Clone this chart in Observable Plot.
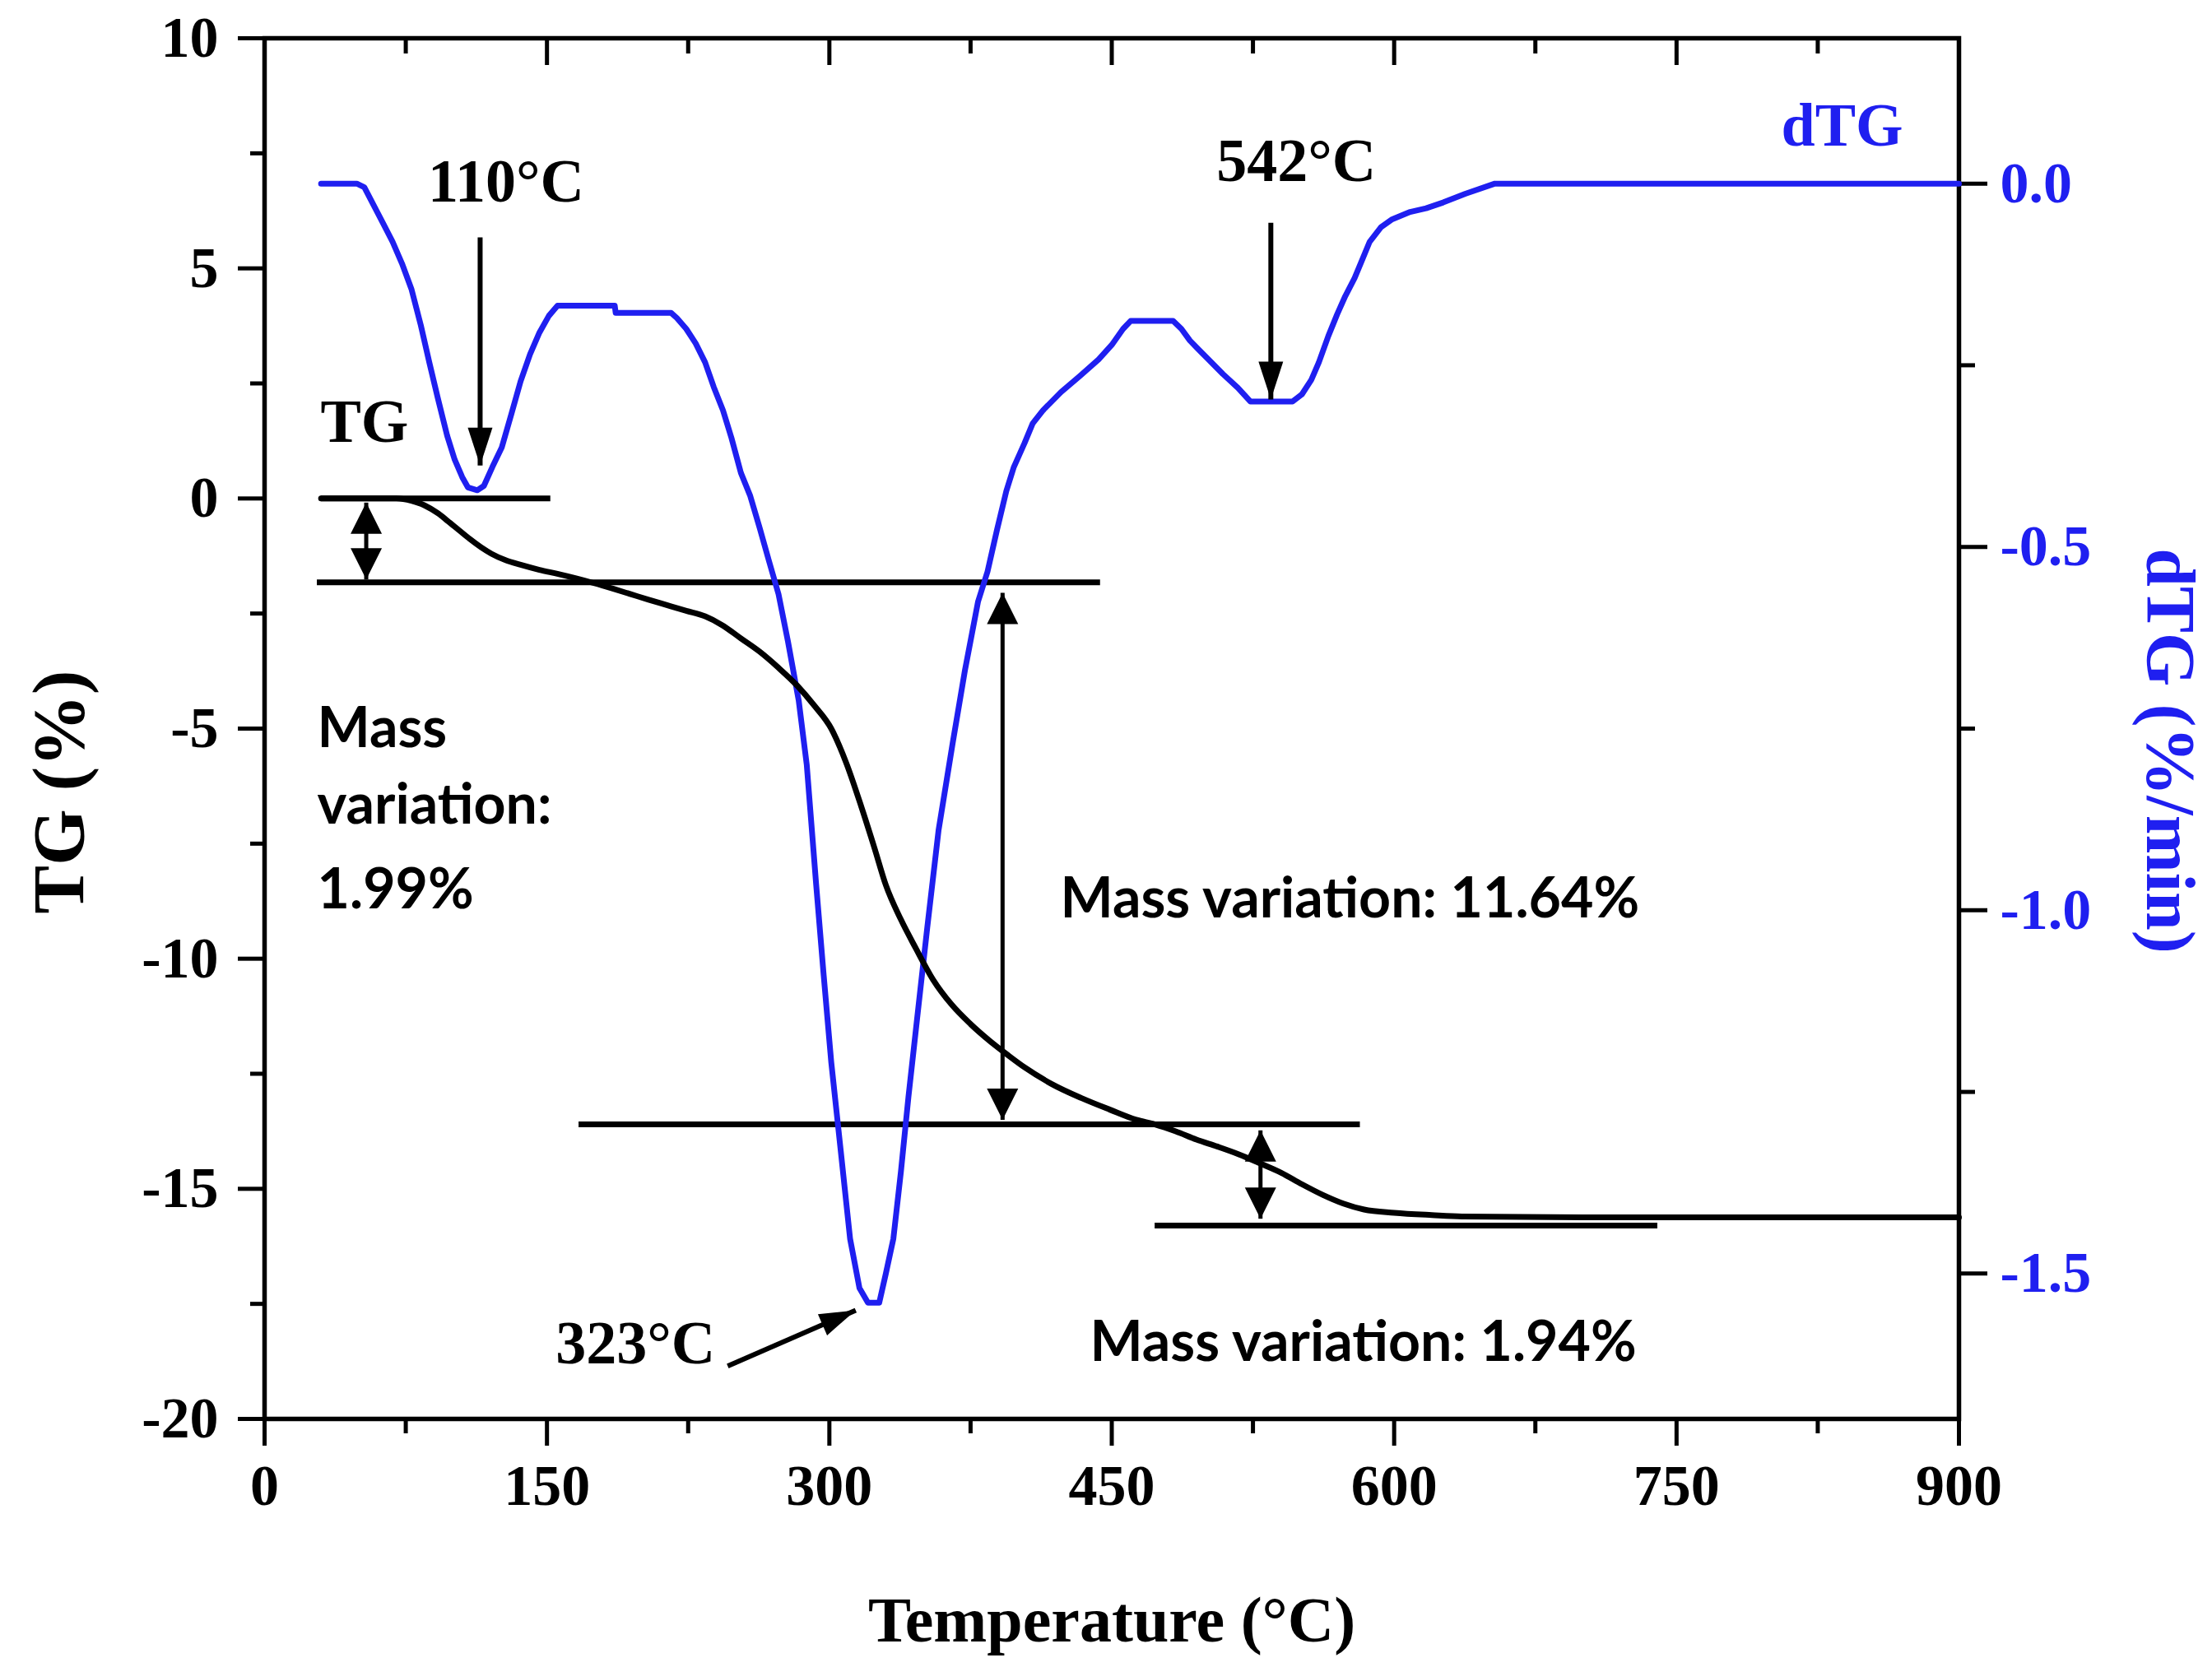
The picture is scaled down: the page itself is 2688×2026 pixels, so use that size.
<!DOCTYPE html>
<html>
<head>
<meta charset="utf-8">
<script src="https://cdn.jsdelivr.net/npm/d3@7"></script>
<script src="https://cdn.jsdelivr.net/npm/@observablehq/plot@0.6"></script>
<style>
  body { margin: 0; background: #fff; }
  #chart svg { display: block; }
</style>
</head>
<body>
<div id="chart"></div>
<script>
const blue = "#1f1ff0";
const serif = "Liberation Serif";
const sans = "Lato";

// TG curve (mass change, %)
const tgTemp = [30, 50, 70, 78, 85, 92, 97, 103, 109, 115, 120.5, 128, 136, 146, 156, 165, 175, 185, 194.5, 204,
  214, 224, 234, 243, 253, 263, 273, 283, 292, 301, 309, 317, 324, 330, 338, 346, 355, 365, 375, 385,
  395, 404, 418, 434, 449, 463, 473, 484, 495, 506, 517.5, 529, 540, 551, 562, 573, 584, 600, 620, 636,
  700, 800, 900];
const tgValue = [0, 0, 0, -0.05, -0.15, -0.32, -0.48, -0.68, -0.88, -1.06, -1.2, -1.34, -1.44, -1.55, -1.64, -1.73, -1.84, -1.96, -2.08, -2.2,
  -2.32, -2.44, -2.56, -2.75, -3.04, -3.33, -3.68, -4.07, -4.5, -5.0, -5.75, -6.7, -7.6, -8.4, -9.15, -9.78, -10.45, -11.0, -11.42, -11.78,
  -12.1, -12.37, -12.72, -13.03, -13.28, -13.5, -13.6, -13.75, -13.93, -14.08, -14.25, -14.45, -14.65, -14.9, -15.13, -15.32, -15.45, -15.52, -15.57, -15.6,
  -15.62, -15.62, -15.62];

// dTG curve (%/min)
const dtgTemp = [30, 49, 53, 58, 63, 68, 73, 78, 83, 87.5, 92, 97, 101, 105, 108, 113, 116.5, 121, 126, 131,
  136, 141, 146, 151, 155.6, 186, 186.5, 216, 219, 224, 229, 234, 238.6, 243.5, 248, 253, 258, 263, 268, 273,
  278, 283.7, 288, 293, 297, 301, 306, 311, 316, 320.5, 326.5, 330, 334, 338, 342, 347, 352, 358, 365.5, 372,
  379, 384, 389, 394, 398, 403.7, 408, 413.5, 423, 433, 443, 450, 456, 460, 482.6, 487, 491.5, 496, 501, 509,
  517, 523.7, 546, 551, 556, 560, 565, 569.7, 574, 579, 583, 587, 593, 599, 608.5, 617, 626, 637.8, 653.5, 900];
const dtgValue = [0, 0, -0.005, -0.03, -0.055, -0.08, -0.11, -0.145, -0.195, -0.246, -0.295, -0.347, -0.38, -0.404, -0.418, -0.422, -0.416, -0.39, -0.363, -0.318,
  -0.272, -0.235, -0.205, -0.182, -0.168, -0.168, -0.178, -0.178, -0.185, -0.2, -0.22, -0.246, -0.28, -0.312, -0.35, -0.398, -0.43, -0.474, -0.52, -0.565,
  -0.63, -0.711, -0.8, -0.965, -1.09, -1.209, -1.33, -1.452, -1.52, -1.54, -1.54, -1.5, -1.452, -1.36, -1.257, -1.14, -1.024, -0.89, -0.77, -0.67,
  -0.575, -0.534, -0.477, -0.423, -0.39, -0.357, -0.33, -0.312, -0.287, -0.265, -0.242, -0.222, -0.2, -0.189, -0.189, -0.2, -0.216, -0.228, -0.241, -0.262,
  -0.281, -0.3, -0.3, -0.29, -0.27, -0.246, -0.21, -0.18, -0.155, -0.13, -0.105, -0.08, -0.06, -0.049, -0.039, -0.034, -0.026, -0.014, 0, 0];

// axes
const xTicks = [0, 150, 300, 450, 600, 750, 900];
const xMinor = [75, 225, 375, 525, 675, 825];
const yTicks = [-20, -15, -10, -5, 0, 5, 10];
const yMinor = [-17.5, -12.5, -7.5, -2.5, 2.5, 7.5];
const dtgTicks = [0, -0.5, -1, -1.5];
const dtgMinor = [-0.25, -0.75, -1.25];
const tgDomain = [-20, 10];
const dtgDomain = [-1.7, 0.2];

// horizontal step lines
const levelY = [0, -1.82, -13.6, -15.8];
const levelX1 = [30, 28, 167, 473];
const levelX2 = [152, 444, 582, 740];

// double arrows between levels
const spanX = [54, 392, 529];
const spanTop = [-0.09, -2.05, -13.73];
const spanBottom = [-1.76, -13.5, -15.65];

// peak arrows on dTG (110 and 542)
const peakX = [114.5, 534.5];
const peakFrom = [-0.074, -0.054];
const peakTo = [-0.388, -0.297];
// slanted arrow to 323 peak (TG units)
const slantX = [246, 314];
const slantY = [-18.85, -17.64];

// labels
const peakText = ["110°C", "542°C", "323°C"];
const peakLabelX = [128.3, 548, 197];
const peakLabelY = [6.45, 6.9, -18.79];
const curveText = ["TG", "dTG"];
const curveLabelX = [29.7, 870.3];
const curveLabelY = [1.23, 7.67];
const massText = ["Mass", "variation:", "1.99%", "Mass variation: 11.64%", "Mass variation: 1.94%"];
const massX = [28, 28, 28, 422.7, 438.4];
const massY = [-5.4, -7.06, -8.9, -9.1, -18.74];

const toY = (d) => tgDomain[0] + (d - dtgDomain[0]) / (dtgDomain[1] - dtgDomain[0]) * (tgDomain[1] - tgDomain[0]);
const fromY = (y) => dtgDomain[0] + (y - tgDomain[0]) / (tgDomain[1] - tgDomain[0]) * (dtgDomain[1] - dtgDomain[0]);

const tgData = tgTemp.map((t, i) => ({t, v: tgValue[i]}));
const dtgData = dtgTemp.map((t, i) => ({t, v: toY(dtgValue[i])}));
const levels = levelY.map((y, i) => ({y, x1: levelX1[i], x2: levelX2[i]}));
const spans = spanX.map((x, i) => ({x, top: spanTop[i], bottom: spanBottom[i]}));
const peaks = peakX.map((x, i) => ({x, from: toY(peakFrom[i]), to: toY(peakTo[i])}));
const slant = [{x1: slantX[0], y1: slantY[0], x2: slantX[1], y2: slantY[1]}];
const peakLabels = peakText.map((s, i) => ({s, x: peakLabelX[i], y: peakLabelY[i]}));
const curveLabels = curveText.map((s, i) => ({s, x: curveLabelX[i], y: curveLabelY[i]}));
const massLabels = massText.map((s, i) => ({s, x: massX[i], y: massY[i]}));

// arrow head with its tip at the origin, pointing up
function head(len, wid) {
  return {
    draw(context) {
      context.moveTo(0, 0);
      context.lineTo(-wid / 2, len);
      context.lineTo(wid / 2, len);
      context.closePath();
    }
  };
}

const W = 2688, H = 2026;
const mL = 321, mR = 308, mT = 46, mB = 302;
const innerH = H - mT - mB;

var plot = Plot.plot({
  width: W,
  height: H,
  marginLeft: mL,
  marginRight: mR,
  marginTop: mT,
  marginBottom: mB,
  x: {domain: [0, 900]},
  y: {domain: tgDomain},
  style: {background: "white", fontFamily: serif, color: "black"},
  marks: [
    // axes
    Plot.axisX(xTicks, {anchor: "bottom", tickSize: 33, tickPadding: 22, strokeWidth: 5,
      fontSize: 70, fontWeight: "bold", fontFamily: serif, tickFormat: (d) => String(d), label: null}),
    Plot.axisX(xMinor, {anchor: "bottom", tickSize: 18, strokeWidth: 5, tickFormat: () => "", label: null}),
    Plot.tickX(xTicks, {x: (d) => d, insetBottom: innerH - 33, strokeWidth: 5}),
    Plot.tickX(xMinor, {x: (d) => d, insetBottom: innerH - 19, strokeWidth: 5}),
    Plot.axisY(yTicks, {anchor: "left", tickSize: 32, tickPadding: 24, strokeWidth: 5,
      fontSize: 70, fontWeight: "bold", fontFamily: serif, tickFormat: (d) => String(d), label: null}),
    Plot.axisY(yMinor, {anchor: "left", tickSize: 17, strokeWidth: 5, tickFormat: () => "", label: null}),
    Plot.axisY(dtgTicks.map(toY), {anchor: "right", tickSize: 34, tickPadding: 16, strokeWidth: 5,
      stroke: "black", fill: blue, fontSize: 70, fontWeight: "bold", fontFamily: serif,
      tickFormat: (y) => { const v = Math.round(fromY(y) * 10) / 10; return (Math.abs(v) < 1e-9 ? 0 : v).toFixed(1); },
      label: null}),
    Plot.axisY(dtgMinor.map(toY), {anchor: "right", tickSize: 19, strokeWidth: 5, stroke: "black",
      tickFormat: () => "", label: null}),
    Plot.frame({stroke: "black", strokeWidth: 5.5}),

    // axis titles
    Plot.text(["Temperature (°C)"], {text: (d) => d, frameAnchor: "bottom", dy: 270, lineAnchor: "bottom",
      textAnchor: "middle", fontSize: 78, fontWeight: "bold", fontFamily: serif, fill: "black"}),
    Plot.text(["TG (%)"], {text: (d) => d, frameAnchor: "left", dx: -249, dy: 77, rotate: -90,
      textAnchor: "middle", lineAnchor: "middle", fontSize: 88, fontWeight: "bold", fontFamily: serif, fill: "black"}),
    Plot.text(["dTG (%/min)"], {text: (d) => d, frameAnchor: "right", dx: 255, dy: 27, rotate: 90,
      textAnchor: "middle", lineAnchor: "middle", fontSize: 84, fontWeight: "bold", fontFamily: serif, fill: blue}),

    // step lines
    Plot.ruleY(levels, {y: "y", x1: "x1", x2: "x2", stroke: "black", strokeWidth: 7}),

    // curves
    Plot.line(dtgData, {x: "t", y: "v", stroke: blue, strokeWidth: 7, curve: "linear"}),
    Plot.line(tgData, {x: "t", y: "v", stroke: "black", strokeWidth: 7, curve: "monotone-x"}),

    // double arrows
    Plot.link(spans, {x1: "x", x2: "x", y1: "top", y2: "bottom", stroke: "black", strokeWidth: 5}),
    Plot.dot(spans, {x: "x", y: "top", symbol: head(38, 38), rotate: 0, fill: "black", stroke: "none"}),
    Plot.dot(spans, {x: "x", y: "bottom", symbol: head(38, 38), rotate: 180, fill: "black", stroke: "none"}),

    // peak arrows
    Plot.link(peaks, {x1: "x", x2: "x", y1: "from", y2: "to", stroke: "black", strokeWidth: 6}),
    Plot.dot(peaks, {x: "x", y: "to", symbol: head(46, 30), rotate: 180, fill: "black", stroke: "none"}),
    Plot.link(slant, {x1: "x1", y1: "y1", x2: "x2", y2: "y2", stroke: "black", strokeWidth: 6}),
    Plot.dot(slant, {x: "x2", y: "y2", symbol: head(44, 28), rotate: 66.5, fill: "black", stroke: "none"}),

    // labels
    Plot.text(peakLabels, {x: "x", y: "y", text: "s", textAnchor: "middle", lineAnchor: "bottom",
      fontSize: 74, fontWeight: "bold", fontFamily: serif, fill: "black"}),
    Plot.text(curveLabels, {x: "x", y: "y", text: "s", textAnchor: "start", lineAnchor: "bottom",
      fontSize: 74, fontWeight: "bold", fontFamily: serif, fill: "black", filter: (d) => d.s === "TG"}),
    Plot.text(curveLabels, {x: "x", y: "y", text: "s", textAnchor: "end", lineAnchor: "bottom",
      fontSize: 74, fontWeight: "bold", fontFamily: serif, fill: blue, filter: (d) => d.s === "dTG"}),
    Plot.text(massLabels, {x: "x", y: "y", text: "s", textAnchor: "start", lineAnchor: "bottom",
      fontSize: 68, fontWeight: "bold", fontFamily: sans, fill: "black"})
  ]
});

document.getElementById("chart").append(plot);
</script>
</body>
</html>
